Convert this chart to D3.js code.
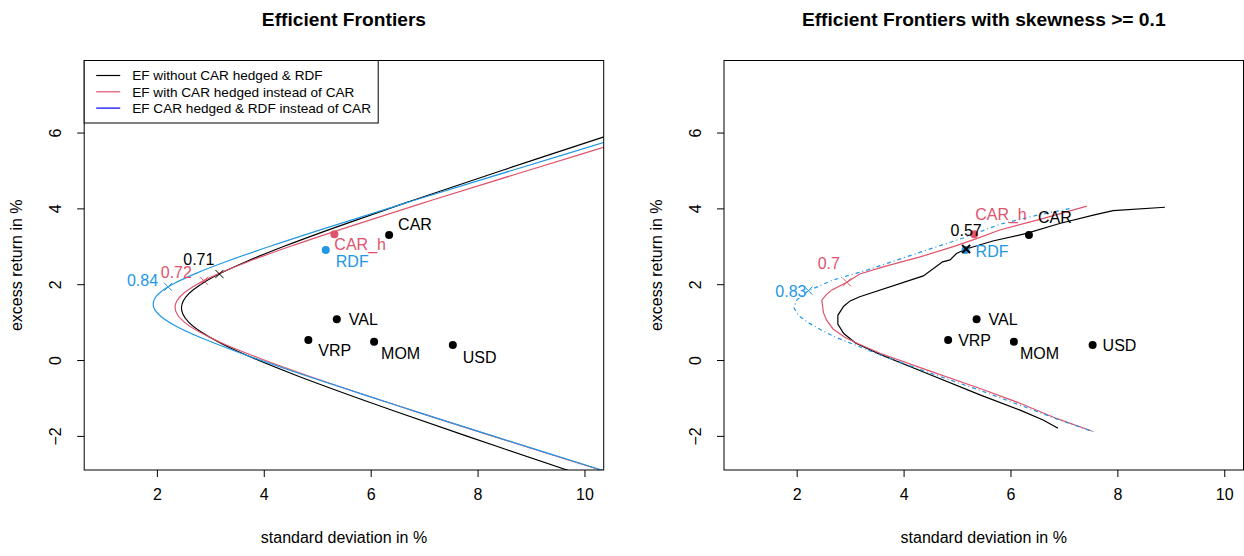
<!DOCTYPE html>
<html>
<head>
<meta charset="utf-8">
<script src="https://cdn.jsdelivr.net/npm/d3@7"></script>
<style>
  html, body { margin: 0; padding: 0; background: #fff; }
  svg { display: block; font-family: "Liberation Sans", Arial, Helvetica, sans-serif; }
</style>
</head>
<body>
<svg id="chart" width="1244" height="556"></svg>
<script>
// ---------- data ----------
const sdTicks  = [2, 4, 6, 8, 10];
const retTicks = [-2, 0, 2, 4, 6];

const assetNames = ["CAR", "VAL", "VRP", "MOM", "USD"];
const assetSd    = [6.345, 5.366, 4.834, 6.064, 7.537];
const assetRet   = [3.30, 1.073, 0.527, 0.483, 0.396];

const altNames = ["CAR_h", "RDF"];
const altSd    = [5.321, 5.160];
const altRet   = [3.32, 2.90];

// unconstrained frontiers (standard deviation, excess return)
const efBaseSd  = [10.83, 10.35, 8.455, 6.767, 5.341, 4.381, 3.677, 3.210, 2.827, 2.598, 2.491, 2.46, 2.490, 2.594, 2.816, 3.187, 3.721, 4.599, 6.150, 7.786, 9.675, 10.31];
const efBaseRet = [6.1, 5.88, 5.0, 4.2, 3.5, 3.0, 2.6, 2.3, 2.0, 1.75, 1.55, 1.376, 1.2, 1.0, 0.75, 0.45, 0.1, -0.4, -1.2, -2.0, -2.9, -3.2];
const efHedgedSd  = [11.27, 8.941, 7.111, 5.558, 4.500, 3.717, 3.191, 2.754, 2.491, 2.370, 2.34, 2.383, 2.514, 2.781, 3.214, 3.821, 4.799, 6.495, 8.266, 10.30, 10.98];
const efHedgedRet = [6.0, 5.0, 4.2, 3.5, 3.0, 2.6, 2.3, 2.0, 1.75, 1.55, 1.393, 1.2, 1.0, 0.75, 0.45, 0.1, -0.4, -1.2, -2.0, -2.9, -3.2];
const efRdfSd  = [10.98, 8.640, 6.787, 5.204, 4.117, 3.302, 2.752, 2.296, 2.076, 1.963, 1.93, 1.961, 2.076, 2.351, 2.806, 3.536, 4.761, 6.497, 8.284, 10.32, 11.00];
const efRdfRet = [6.0, 5.0, 4.2, 3.5, 3.0, 2.6, 2.3, 2.0, 1.8, 1.63, 1.48, 1.33, 1.15, 0.9, 0.6, 0.2, -0.4, -1.2, -2.0, -2.9, -3.2];

// frontiers with skewness >= 0.1
const skBaseSd  = [6.89, 6.61, 6.18, 5.43, 4.43, 3.56, 3.10, 2.88, 2.77, 2.77, 2.88, 3.00, 3.18, 4.37, 4.73, 4.87, 4.99, 5.17, 5.67, 6.30, 6.92, 7.55, 7.92, 8.89];
const skBaseRet = [-1.80, -1.58, -1.32, -0.92, -0.35, 0.15, 0.45, 0.70, 0.95, 1.18, 1.42, 1.56, 1.67, 2.22, 2.59, 2.64, 2.81, 2.93, 3.14, 3.34, 3.60, 3.82, 3.94, 4.03];
const skHedgedSd  = [7.52, 6.86, 6.18, 5.43, 4.43, 3.56, 3.15, 2.90, 2.68, 2.56, 2.50, 2.47, 2.55, 2.66, 2.94, 3.18, 3.60, 4.31, 4.93, 5.30, 5.80, 6.55, 7.43];
const skHedgedRet = [-1.87, -1.54, -1.14, -0.75, -0.26, 0.18, 0.43, 0.60, 0.82, 1.05, 1.25, 1.58, 1.72, 1.85, 2.05, 2.27, 2.45, 2.72, 2.99, 3.17, 3.43, 3.71, 4.06];
const skRdfSd  = [7.55, 6.86, 6.18, 5.43, 4.43, 3.50, 3.05, 2.70, 2.45, 2.20, 2.03, 1.95, 2.00, 2.22, 2.68, 3.31, 4.24, 5.18, 5.80, 6.50, 7.13];
const skRdfRet = [-1.89, -1.55, -1.19, -0.80, -0.31, 0.17, 0.42, 0.62, 0.80, 1.00, 1.18, 1.38, 1.58, 1.83, 2.11, 2.37, 2.81, 3.25, 3.58, 3.82, 4.00];

// tangency portfolios and their Sharpe ratios
const tanLabels = ["0.71", "0.72", "0.84"];
const tanSd     = [3.17, 2.88, 2.21];
const tanRet    = [2.27, 2.09, 1.93];
const skTanLabels = ["0.57", "0.7", "0.83"];
const skTanSd     = [5.17, 2.94, 2.22];
const skTanRet    = [2.93, 2.05, 1.83];

const legendLabels = ["EF without CAR hedged & RDF", "EF with CAR hedged instead of CAR", "EF CAR hedged & RDF instead of CAR"];

// ---------- styling / layout ----------
const BLACK = "#000000", RED = "#DF536B", BLUE = "#2297E6";
const seriesColors = [BLACK, RED, BLUE];
const legendColors = [BLACK, RED, "#0000FF"];

const plotW = 519.5, plotH = 409.5, plotTop = 60.5;
const x = d3.scaleLinear().domain([0.64, 10.36]).range([0, plotW]);
const y = d3.scaleLinear().domain([-2.9, 7.9]).range([plotH, 0]);

const zip = (a, b) => a.map((v, i) => [v, b[i]]);

const panels = [
  {
    left: 84.2,
    title: "Efficient Frontiers",
    curves: [zip(efBaseSd, efBaseRet), zip(efHedgedSd, efHedgedRet), zip(efRdfSd, efRdfRet)],
    dashes: [null, null, null],
    curve: d3.curveCatmullRom.alpha(0.5),
    tan: { labels: tanLabels, sd: tanSd, ret: tanRet, width: [1, 1, 1],
           off: [{ a: "end", dx: -5, dy: -9 }, { a: "end", dx: -12, dy: -3 }, { a: "end", dx: -10, dy: -1 }] },
    assetOff: [[9, -5], [12, 5.5], [10, 16], [7, 17], [10, 17.5]],
    altOff: [[0, 16], [10, 17]],
    legend: true
  },
  {
    left: 724,
    title: "Efficient Frontiers with skewness >= 0.1",
    curves: [zip(skBaseSd, skBaseRet), zip(skHedgedSd, skHedgedRet), zip(skRdfSd, skRdfRet)],
    dashes: [null, null, "1,3,4,3"],
    curve: d3.curveLinear,
    tan: { labels: skTanLabels, sd: skTanSd, ret: skTanRet, width: [2, 1, 1],
           off: [{ a: "middle", dx: 0, dy: -13 }, { a: "end", dx: -7, dy: -13 }, { a: "end", dx: -2, dy: 6 }] },
    assetOff: [[9, -12], [12, 5.5], [10, 5.5], [6, 17], [10, 5.5]],
    altOff: [[1, -14], [10, 7]],
    legend: false
  }
];

const svg = d3.select("#chart");
svg.append("rect").attr("width", 1244).attr("height", 556).attr("fill", "#fff");

panels.forEach((p, pi) => {
  const g = svg.append("g").attr("transform", `translate(${p.left},${plotTop})`);
  const clipId = "clip" + pi;
  g.append("clipPath").attr("id", clipId)
    .append("rect").attr("width", plotW).attr("height", plotH);

  // title
  svg.append("text")
    .attr("x", p.left + plotW / 2).attr("y", 26)
    .attr("text-anchor", "middle")
    .attr("font-size", 19.2).attr("font-weight", "bold")
    .text(p.title);

  // x axis
  const xAxis = g.append("g").attr("transform", `translate(0,${plotH})`)
    .call(d3.axisBottom(x).tickValues(sdTicks).tickSize(7).tickPadding(12).tickFormat(d3.format("d")));
  xAxis.select(".domain").remove();
  xAxis.selectAll("text").attr("font-size", 16).attr("fill", "#000").attr("font-family", null);
  xAxis.selectAll("line").attr("stroke", "#000");

  // y axis with labels parallel to the axis
  const yAxis = g.append("g")
    .call(d3.axisLeft(y).tickValues(retTicks).tickSize(7).tickFormat(d => d < 0 ? "\u2212" + Math.abs(d) : d));
  yAxis.select(".domain").remove();
  yAxis.selectAll("line").attr("stroke", "#000");
  yAxis.selectAll("text")
    .attr("font-size", 16).attr("fill", "#000").attr("font-family", null)
    .attr("transform", "rotate(-90)")
    .attr("x", 0).attr("y", -23.5).attr("dy", null)
    .attr("text-anchor", "middle");

  // axis titles
  svg.append("text")
    .attr("x", p.left + plotW / 2).attr("y", 543)
    .attr("text-anchor", "middle").attr("font-size", 16)
    .text("standard deviation in %");
  svg.append("text")
    .attr("transform", `translate(${p.left - 62},${plotTop + plotH / 2}) rotate(-90)`)
    .attr("text-anchor", "middle").attr("font-size", 16)
    .text("excess return in %");

  // frontiers
  const line = d3.line().x(d => x(d[0])).y(d => y(d[1])).curve(p.curve);
  const cg = g.append("g").attr("clip-path", `url(#${clipId})`);
  p.curves.forEach((c, i) => {
    cg.append("path").datum(c)
      .attr("d", line)
      .attr("fill", "none")
      .attr("stroke", seriesColors[i])
      .attr("stroke-width", 1.2)
      .attr("stroke-dasharray", p.dashes[i]);
  });

  // single assets
  assetNames.forEach((n, i) => {
    const px = x(assetSd[i]), py = y(assetRet[i]);
    g.append("circle").attr("cx", px).attr("cy", py).attr("r", 4).attr("fill", BLACK);
    g.append("text").attr("x", px + p.assetOff[i][0]).attr("y", py + p.assetOff[i][1])
      .attr("font-size", 16).attr("fill", BLACK).text(n);
  });
  // hedged CAR and RDF
  const altColors = [RED, BLUE];
  altNames.forEach((n, i) => {
    const px = x(altSd[i]), py = y(altRet[i]);
    g.append("circle").attr("cx", px).attr("cy", py).attr("r", 4).attr("fill", altColors[i]);
  });

  // tangency markers
  const t = p.tan;
  t.labels.forEach((lab, i) => {
    const px = x(t.sd[i]), py = y(t.ret[i]), s = 4;
    g.append("path")
      .attr("d", `M${px - s},${py - s}L${px + s},${py + s}M${px - s},${py + s}L${px + s},${py - s}`)
      .attr("stroke", seriesColors[i]).attr("stroke-width", t.width[i]).attr("fill", "none");
  });
  altNames.forEach((n, i) => {
    const px = x(altSd[i]), py = y(altRet[i]);
    g.append("text").attr("x", px + p.altOff[i][0]).attr("y", py + p.altOff[i][1])
      .attr("font-size", 16).attr("fill", altColors[i]).text(n);
  });
  t.labels.forEach((lab, i) => {
    const px = x(t.sd[i]), py = y(t.ret[i]);
    g.append("text")
      .attr("x", px + t.off[i].dx).attr("y", py + t.off[i].dy)
      .attr("text-anchor", t.off[i].a)
      .attr("font-size", 16).attr("fill", seriesColors[i]).text(lab);
  });

  // plot frame
  g.append("rect").attr("width", plotW).attr("height", plotH)
    .attr("fill", "none").attr("stroke", "#000").attr("stroke-width", 1);

  // legend
  if (p.legend) {
    const lg = g.append("g");
    lg.append("rect").attr("x", 0).attr("y", 0).attr("width", 294).attr("height", 62.5)
      .attr("fill", "#fff").attr("stroke", "#000").attr("stroke-width", 1);
    legendLabels.forEach((lab, i) => {
      const ly = 15 + i * 16.3;
      lg.append("line").attr("x1", 12).attr("x2", 36).attr("y1", ly).attr("y2", ly)
        .attr("stroke", legendColors[i]).attr("stroke-width", 1.2);
      lg.append("text").attr("x", 48).attr("y", ly + 4.8)
        .attr("font-size", 13.6).attr("fill", "#000").text(lab);
    });
  }
});
</script>
</body>
</html>
